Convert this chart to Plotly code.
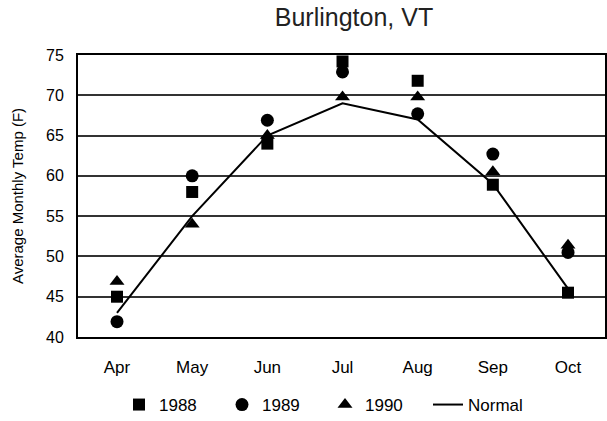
import plotly.graph_objects as go

months = ["Apr", "May", "Jun", "Jul", "Aug", "Sep", "Oct"]
temps_1988 = [45, 58, 64, 74.2, 71.8, 58.9, 45.5]
temps_1989 = [41.9, 60, 66.9, 72.9, 67.7, 62.7, 50.5]
temps_1990 = [46.9, 54, 65, 69.8, 69.8, 60.5, 51.4]
normal = [43, 55, 65, 69, 67, 59, 46]
y_ticks = [40, 45, 50, 55, 60, 65, 70, 75]

FONT = "Liberation Sans, Arial, sans-serif"

fig = go.Figure()
fig.add_trace(go.Scatter(x=months, y=normal, mode="lines", name="Normal", legendrank=4,
                         line=dict(color="black", width=2)))
fig.add_trace(go.Scatter(x=months, y=temps_1989, mode="markers", name="1989", legendrank=2,
                         marker=dict(symbol="circle", size=13, color="black")))
fig.add_trace(go.Scatter(x=months, y=temps_1990, mode="markers", name="1990", legendrank=3,
                         marker=dict(symbol="triangle-up", size=13, color="black")))
fig.add_trace(go.Scatter(x=months, y=temps_1988, mode="markers", name="1988", legendrank=1,
                         marker=dict(symbol="square", size=12, color="black")))

fig.update_layout(
    width=607, height=421,
    margin=dict(l=78, r=2, t=55, b=84),
    paper_bgcolor="white", plot_bgcolor="white",
    font=dict(family=FONT, color="black", size=16),
    title=dict(text="Burlington, VT", x=354 / 607, xref="container", y=1 - 17 / 421,
               yref="container", xanchor="center", yanchor="middle",
               font=dict(size=25, family=FONT, color="#222")),
    showlegend=True,
    legend=dict(orientation="h", x=119 / 607, xref="container", xanchor="left",
                y=1 - 405 / 421, yref="container", yanchor="middle",
                entrywidth=58, font=dict(size=17),
                bgcolor="rgba(0,0,0,0)"),
)
fig.update_xaxes(
    type="category", range=[-0.519, 6.492], automargin=False,
    showgrid=False, zeroline=False,
    showline=True, linecolor="black", linewidth=2, mirror=True,
    ticks="outside", ticklen=14, tickcolor="rgba(0,0,0,0)",
    tickfont=dict(size=17, family=FONT),
)
fig.update_yaxes(
    range=[40, 75], tickvals=y_ticks, automargin=False,
    showgrid=True, gridcolor="#333", gridwidth=1.8, zeroline=False,
    showline=True, linecolor="black", linewidth=2, mirror=True,
    ticks="outside", ticklen=9, tickcolor="rgba(0,0,0,0)",
    tickfont=dict(size=16, family=FONT),
    title=dict(text="Average Monthly Temp (F)", font=dict(size=15, family=FONT),
               standoff=19),
)

fig.write_html("out.html", config={"displayModeBar": False},
               post_script="document.body.style.margin='0';")
